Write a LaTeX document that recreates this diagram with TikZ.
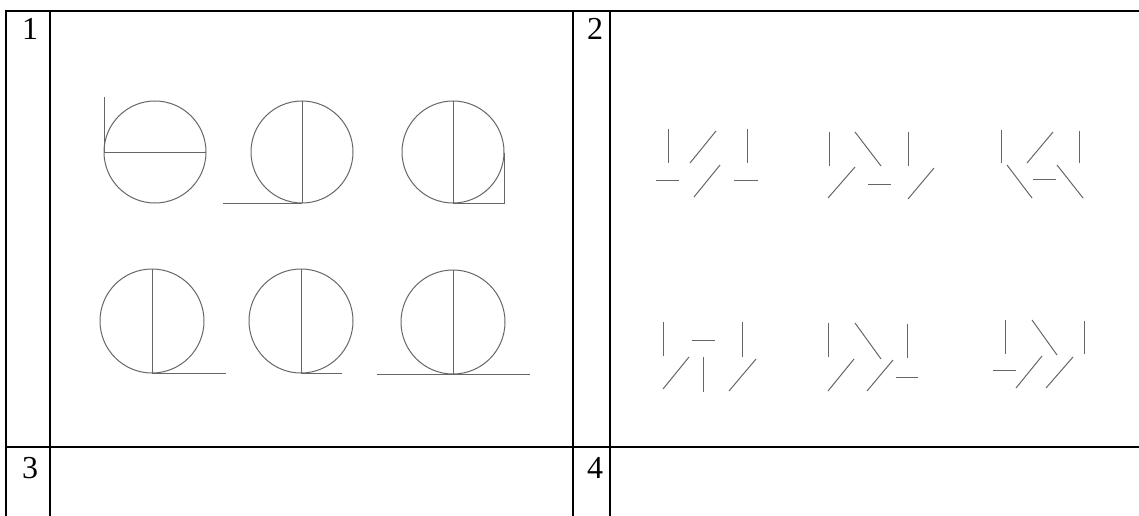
\documentclass[tikz,border=0pt]{standalone}
\usepackage{fontspec}
\setmainfont{Liberation Serif}
\begin{document}
\begin{tikzpicture}[x=1pt,y=-1pt,
  frame/.style={line width=2.2pt,black},
  fig/.style={line width=1pt,draw=black!60},
  lbl/.style={anchor=base,inner sep=0pt,font=\fontsize{32}{38}\selectfont}]
\useasboundingbox (0,0) rectangle (1139,516);
% table
\draw[frame] (6,516) -- (6,11) -- (1139,11);
\draw[frame] (50,11) -- (50,516);
\draw[frame] (573,11) -- (573,516);
\draw[frame] (610,11) -- (610,516);
\draw[frame] (6,447) -- (1139,447);
\node[lbl] (n1) at (30,40) {1};
\node[lbl] (n2) at (595,40) {2};
\node[lbl] (n3) at (30,478) {3};
\node[lbl] (n4) at (595,478) {4};
% panel 1, row 1
\draw[fig] (155,152) circle (51);
\draw[fig] (104,152) -- (206,152);
\draw[fig] (104,97) -- (104,152);
\draw[fig] (302,152) circle (51);
\draw[fig] (302,101) -- (302,203);
\draw[fig] (223,203) -- (302,203);
\draw[fig] (453,152) circle (51);
\draw[fig] (453,101) -- (453,203);
\draw[fig] (453,203) -- (504,203) -- (504,153);
% panel 1, row 2
\draw[fig] (152,321) circle (52);
\draw[fig] (152,269) -- (152,373);
\draw[fig] (152,373) -- (226,373);
\draw[fig] (301,321) circle (52);
\draw[fig] (301,269) -- (301,373);
\draw[fig] (301,373) -- (342,373);
\draw[fig] (453,322) circle (52);
\draw[fig] (453,270) -- (453,374);
\draw[fig] (377,374) -- (530,374);
% panel 2, row 1, group 1
\draw[fig] (668,129) -- (668,163);
\draw[fig] (690,163) -- (716,131);
\draw[fig] (656,180) -- (679,180);
\draw[fig] (694,197) -- (720,165);
\draw[fig] (747,129) -- (747,163);
\draw[fig] (734,180) -- (758,180);
% group 2
\draw[fig] (829,132) -- (829,166);
\draw[fig] (855,132) -- (881,166);
\draw[fig] (828,198) -- (855,167);
\draw[fig] (868,184) -- (891,184);
\draw[fig] (908,132) -- (908,166);
\draw[fig] (908,199) -- (934,168);
% group 3
\draw[fig] (1001,130) -- (1001,163);
\draw[fig] (1027,163) -- (1053,132);
\draw[fig] (1079,131) -- (1079,163);
\draw[fig] (1007,165) -- (1032,198);
\draw[fig] (1033,179) -- (1056,179);
\draw[fig] (1057,165) -- (1083,198);
% row 2, group 4
\draw[fig] (663,322) -- (663,356);
\draw[fig] (692,340) -- (715,340);
\draw[fig] (742,322) -- (742,357);
\draw[fig] (663,389) -- (689,357);
\draw[fig] (703,357) -- (703,392);
\draw[fig] (729,391) -- (756,359);
% group 5
\draw[fig] (828,323) -- (828,357);
\draw[fig] (855,323) -- (881,359);
\draw[fig] (828,391) -- (854,359);
\draw[fig] (867,391) -- (893,360);
\draw[fig] (907,324) -- (907,358);
\draw[fig] (896,377) -- (918,377);
% group 6
\draw[fig] (1005,320) -- (1005,354);
\draw[fig] (1032,320) -- (1057,355);
\draw[fig] (1084,321) -- (1084,354);
\draw[fig] (993,370) -- (1016,370);
\draw[fig] (1016,388) -- (1042,356);
\draw[fig] (1046,388) -- (1073,357);
\end{tikzpicture}
\end{document}
